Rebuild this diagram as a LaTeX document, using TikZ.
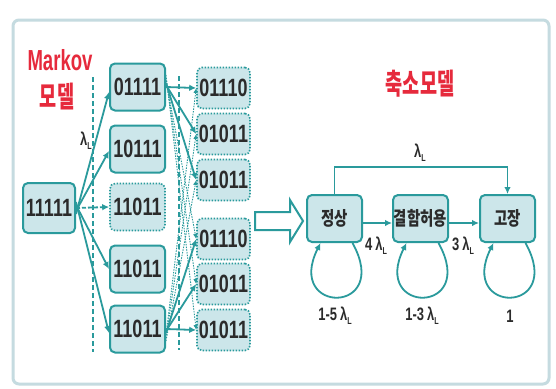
\documentclass[tikz,border=0pt]{standalone}
\usepackage{fontspec}
\setmainfont{Liberation Sans}
\newfontfamily\nf[FakeStretch=0.72]{Liberation Sans}
\newfontfamily\kf[FakeStretch=0.76]{Noto Sans CJK KR}
\newfontfamily\rf[FakeStretch=0.64]{Liberation Sans}
\newfontfamily\rk[FakeStretch=0.64]{Noto Sans CJK KR}
\usetikzlibrary{arrows.meta,calc}
\definecolor{teal1}{HTML}{2A9A9C}
\definecolor{fill1}{HTML}{CCE6EA}
\definecolor{red1}{HTML}{E62A3C}
\definecolor{frame1}{HTML}{C5DBE0}
\definecolor{txt1}{HTML}{2B2B2B}
\newcommand\lamL{λ\raisebox{-4pt}{\fontsize{10}{10}\selectfont L}}
\tikzset{
  st/.style={draw=teal1, line width=2pt, fill=fill1, rounded corners=5pt,
    minimum width=55pt, minimum height=47pt, inner sep=0pt, text=txt1,
    font=\nf\bfseries\fontsize{25}{25}\selectfont},
  dt/.style={st, dash pattern=on 1.5pt off 1.5pt, line width=1.6pt,
    minimum width=53pt, minimum height=41pt},
  kn/.style={st, font=\kf\bfseries\fontsize{19}{19}\selectfont},
  arr/.style={draw=teal1, line width=1.8pt, -{Latex[length=7pt,width=6.5pt]}},
  darr/.style={arr, dash pattern=on 4pt off 2pt},
  farr/.style={draw=teal1, line width=0.9pt, dash pattern=on 1.5pt off 1.2pt,
    -{Latex[length=5pt,width=4.5pt]}},
  vdash/.style={draw=teal1, line width=1.3pt, dash pattern=on 5pt off 3pt},
  lbl/.style={text=txt1, font=\nf\bfseries\fontsize{18}{18}\selectfont, inner sep=0pt},
  redl/.style={text=red1, inner sep=0pt},
}
\begin{document}
\begin{tikzpicture}[x=1pt,y=-1pt]
\useasboundingbox (0,0) rectangle (556,388);
\fill[white] (0,0) rectangle (556,388);
\draw[frame1, line width=3pt, rounded corners=6pt] (13,20) rectangle (549,384);

% titles
\node[redl, font=\rf\bfseries\fontsize{29}{29}\selectfont] (tM) at (60,60) {Markov};
\node[redl, font=\rk\bfseries\fontsize{29}{29}\selectfont] (tM2) at (57,97) {모델};
\node[redl, font=\rk\bfseries\fontsize{29}{29}\selectfont] (tR) at (420,84) {축소모델};

% dashed separators
\coordinate (v1a) at (93,77); \coordinate (v1b) at (93,352);
\coordinate (v2a) at (179,76); \coordinate (v2b) at (179,350);
\draw[vdash] (v1a) -- (v1b);
\draw[vdash] (v2a) -- (v2b);

% left Markov model
\node[st, minimum width=52pt, minimum height=50pt] (a) at (49,208) {11111};
\node[st] (c1) at (137.5,87) {01111};
\node[st] (c2) at (137.5,149) {10111};
\node[dt, minimum width=55pt, minimum height=47pt] (c3) at (137.5,207) {11011};
\node[st] (c4) at (137.5,269) {11011};
\node[st] (c5) at (137.5,329) {11011};

\node[dt] (d1) at (223.5,88) {01110};
\node[dt] (d2) at (223.5,134) {01011};
\node[dt] (d3) at (223.5,180) {01011};
\node[dt] (d4) at (223.5,239) {01110};
\node[dt] (d5) at (223.5,284) {01011};
\node[dt] (d6) at (223.5,330) {01011};

\node[lbl] (lam1) at (86,141) {\lamL};

\draw[arr] ([yshift=-6pt]a.east) -- ([yshift=-5pt]c1.west);
\draw[arr] ([yshift=-3pt]a.east) -- ([yshift=-2pt]c2.west);
\draw[darr] (a.east) -- (c3.west);
\draw[arr] ([yshift=3pt]a.east) -- (c4.west);
\draw[arr] ([yshift=6pt]a.east) -- ([yshift=-4pt]c5.west);

\draw[farr] ([yshift=6pt]c1.east) -- (d4.west);
\draw[farr] ([yshift=9pt]c1.east) -- (d5.west);
\draw[farr] ([yshift=12pt]c1.east) -- (d6.west);
\draw[farr] ([yshift=-6pt]c5.east) -- (d1.west);
\draw[farr] ([yshift=-9pt]c5.east) -- (d2.west);
\draw[farr] ([yshift=-12pt]c5.east) -- (d3.west);

\draw[arr] (c1.east) -- (d1.west);
\draw[arr] ([yshift=2pt]c1.east) -- (d2.west);
\draw[arr] ([yshift=4pt]c1.east) -- (d3.west);
\draw[arr] ([yshift=-4pt]c5.east) -- (d4.west);
\draw[arr] ([yshift=-2pt]c5.east) -- (d5.west);
\draw[arr] (c5.east) -- (d6.west);

% big hollow arrow
\draw[teal1, line width=2pt, fill=white, line join=miter]
  (255,212) -- (290,212) -- (290,200) -- (303,221) -- (290,242) -- (290,230) -- (255,230) -- cycle;

% reduced model
\node[kn] (s1) at (334.5,218.5) {정상};
\node[kn] (s2) at (420.5,218.5) {결함허용};
\node[kn] (s3) at (507.5,218.5) {고장};

\coordinate (tp1) at (334.5,167);
\draw[arr] (s1.north) -- (tp1) -| (s3.north);
\node[lbl] (lam2) at (420,153) {\lamL};

\draw[arr] ([yshift=-4.5pt]s1.east) -- ([yshift=-4.5pt]s2.west);
\draw[arr] ([yshift=-4.5pt]s2.east) -- ([yshift=-4.5pt]s3.west);
\node[lbl] (l4) at (376,246) {4\,\lamL};
\node[lbl] (l3) at (463,246) {3\,\lamL};

\foreach \s in {s1,s2,s3}{
  \draw[arr] ($(\s.south)+(18,0)$) .. controls ($(\s.south)+(58,72)$) and ($(\s.south)+(-50,72)$) .. ($(\s.south)+(-14,0)$);
}
\node[lbl] (p1) at (335,316) {1-5\,\lamL};
\node[lbl] (p2) at (422,316) {1-3\,\lamL};
\node[lbl] (p3) at (510,316) {1};
\end{tikzpicture}
\end{document}
